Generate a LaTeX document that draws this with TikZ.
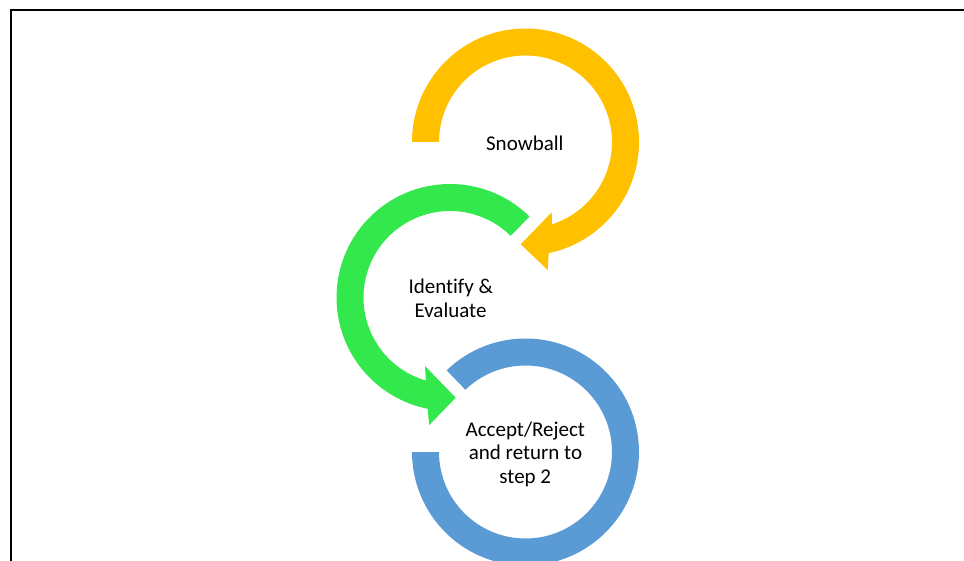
\documentclass[tikz,border=0pt]{standalone}
\usepackage{fontspec}
\setmainfont[Ligatures=NoCommon]{Carlito}
\definecolor{ringyellow}{HTML}{FFC000}
\definecolor{ringgreen}{HTML}{32E84D}
\definecolor{ringblue}{HTML}{5B9BD5}
\begin{document}
\begin{tikzpicture}[x=1pt,y=1pt,
  lbl/.style={anchor=base,inner sep=0pt,font=\fontsize{21}{24}\selectfont,text=black},
  frameline/.style={draw=black,line width=2pt}]
\useasboundingbox (0,0) rectangle (964,560);
\draw[frameline] (10.5,-5) -- (10.5,549.5) -- (975,549.5);
\coordinate (Y) at (525.5,418);
\coordinate (G) at (450,262.5);
\coordinate (B) at (525.5,108);
% yellow ring with arrow
\fill[ringyellow] ([shift={(180:113.5)}]Y) arc[start angle=180,end angle=-78.2,radius=113.5]
  -- ([shift={(22.2,-128)}]Y) -- ([shift={(-4.8,-102.3)}]Y) -- ([shift={(26.2,-70.3)}]Y)
  -- ([shift={(-72.2:86.5)}]Y) arc[start angle=-72.2,end angle=180,radius=86.5] -- cycle;
% green ring with arrow
\fill[ringgreen] ([shift={(45.5:113.5)}]G) arc[start angle=45.5,end angle=258.6,radius=113.5]
  -- ([shift={(-20.7,-127.5)}]G) -- ([shift={(5.7,-100.2)}]G) -- ([shift={(-25,-68.5)}]G)
  -- ([shift={(253.8:86.5)}]G) arc[start angle=253.8,end angle=45.5,radius=86.5] -- cycle;
% blue ring
\fill[ringblue] ([shift={(134:113.5)}]B) arc[start angle=134,end angle=-180,radius=113.5]
  -- ([shift={(-180:86.5)}]B) arc[start angle=-180,end angle=134,radius=86.5] -- cycle;
% labels
\node[lbl] (snow) at (524.8,409.3) {Snowball};
\node[lbl] (ida) at (450.8,266.7) {Identify \&};
\node[lbl] (idb) at (450.5,242.9) {Evaluate};
\node[lbl] (aca) at (525.3,124) {Accept/Reject};
\node[lbl] (acb) at (525.5,100.2) {and return to};
\node[lbl] (acc) at (525.3,76.6) {step 2};
\end{tikzpicture}
\end{document}
